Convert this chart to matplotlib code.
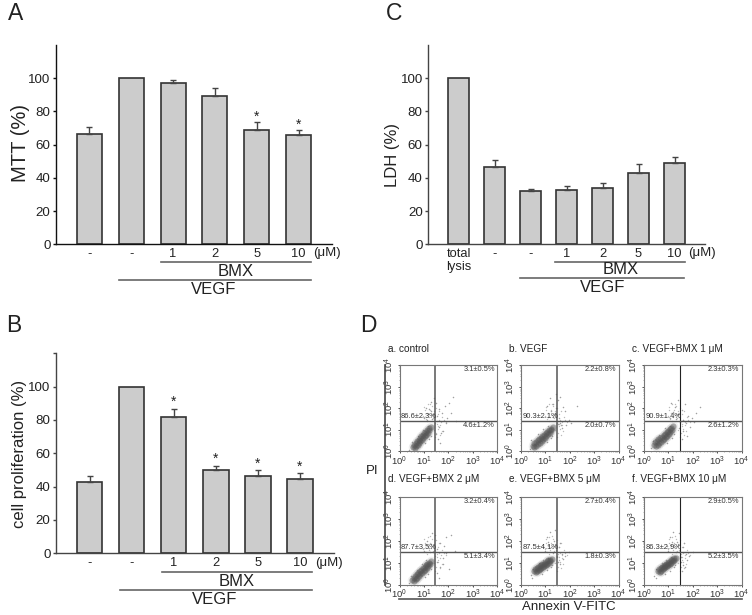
import numpy as np
import matplotlib
matplotlib.use("Agg")
import matplotlib.pyplot as plt
from matplotlib.lines import Line2D

plt.rcParams["font.family"] = ["Liberation Sans", "DejaVu Sans"]
plt.rcParams["mathtext.fontset"] = "custom"
plt.rcParams["mathtext.rm"] = "Liberation Sans"
plt.rcParams["mathtext.default"] = "rm"

W, H = 752, 615

# bar panels
mtt_labels = ["-", "-", "1", "2", "5", "10"]
mtt_vals = [66.7, 100, 97.3, 89.3, 68.8, 65.8]
mtt_errs = [3.8, 0, 1.5, 5.1, 4.7, 2.9]
mtt_stars = [4, 5]

prolif_labels = ["-", "-", "1", "2", "5", "10"]
prolif_vals = [42.9, 100, 81.7, 49.7, 46.3, 44.5]
prolif_errs = [3.2, 0, 5.1, 2.8, 3.4, 3.6]
prolif_stars = [2, 3, 4, 5]

ldh_labels = ["total\nlysis", "-", "-", "1", "2", "5", "10"]
ldh_vals = [100, 46.4, 32.2, 32.4, 33.6, 43.2, 49.2]
ldh_errs = [0, 4.2, 1.3, 2.9, 3.4, 5.0, 3.2]

yticks = [0, 20, 40, 60, 80, 100]

# flow cytometry panels
flow_titles = ["a. control", "b. VEGF", "c. VEGF+BMX 1 μM",
               "d. VEGF+BMX 2 μM", "e. VEGF+BMX 5 μM", "f. VEGF+BMX 10 μM"]
flow_ur = ["3.1±0.5%", "2.2±0.8%", "2.3±0.3%", "3.2±0.4%", "2.7±0.4%", "2.9±0.5%"]
flow_ul = ["86.6±2.3%", "90.3±2.1%", "90.9±1.4%", "87.7±3.5%", "87.5±4.1%", "86.3±2.9%"]
flow_lr = ["4.6±1.2%", "2.0±0.7%", "2.6±1.2%", "5.1±3.4%", "1.8±0.3%", "5.2±3.5%"]

# log10 positions of the dense cell population
core_a_x = [.55, .62, .60, .68, .66, .74, .72, .80, .78, .86, .84, .92, .90, .98, .96, 1.04, 1.02, 1.10, 1.08, 1.16, 1.14, 1.22, 1.20, 1.30]
core_a_y = [.20, .15, .30, .25, .38, .30, .45, .38, .52, .45, .60, .52, .68, .60, .75, .68, .82, .75, .90, .85, .98, .98, 1.08, 1.12]
core_b_x = [.48, .55, .52, .62, .60, .70, .68, .78, .74, .85, .82, .92, .88, .98, .95, 1.04, 1.02, 1.12, 1.08, 1.18, 1.15, 1.24, 1.22, 1.30]
core_b_y = [.25, .18, .35, .25, .42, .32, .50, .38, .56, .46, .62, .55, .70, .62, .76, .70, .84, .78, .90, .86, .98, .96, 1.04, 1.10]
core_c_x = [.42, .50, .46, .56, .54, .62, .58, .70, .66, .76, .74, .84, .80, .90, .88, .96, .94, 1.02, 1.00, 1.08, 1.06, 1.14, 1.12, 1.20]
core_c_y = [.30, .22, .40, .28, .46, .36, .54, .42, .60, .50, .66, .58, .74, .66, .80, .72, .88, .80, .94, .90, 1.02, .98, 1.08, 1.14]
core_d_x = [.52, .60, .58, .66, .64, .72, .70, .80, .76, .86, .84, .92, .90, 1.00, .96, 1.06, 1.04, 1.12, 1.08, 1.18, 1.14, 1.24, 1.22, 1.30]
core_d_y = [.22, .16, .32, .26, .38, .32, .46, .38, .52, .46, .60, .54, .66, .60, .74, .68, .80, .76, .88, .84, .94, .94, 1.00, 1.08]
core_e_x = [.52, .60, .56, .66, .64, .72, .70, .78, .76, .84, .82, .90, .88, .96, .94, 1.02, 1.00, 1.08, 1.06, 1.14, 1.12, 1.20, 1.18, 1.28]
core_e_y = [.62, .55, .70, .60, .74, .66, .80, .70, .84, .76, .88, .80, .92, .86, .96, .90, 1.00, .96, 1.06, 1.00, 1.10, 1.06, 1.14, 1.18]
core_f_x = [.58, .66, .62, .70, .68, .76, .74, .82, .80, .88, .86, .94, .92, 1.00, .98, 1.06, 1.04, 1.12, 1.10, 1.18, 1.16, 1.24, 1.22, 1.30]
core_f_y = [.64, .58, .72, .64, .76, .70, .82, .74, .86, .80, .90, .84, .96, .90, 1.00, .94, 1.04, 1.00, 1.10, 1.06, 1.14, 1.12, 1.20, 1.22]

# log10 positions of the scattered cells
sparse_a_x = [.40, .50, .75, .95, 1.15, 1.30, 1.05, 1.20, 1.00, 1.18, 1.10, 1.28, 1.35, 1.55, 1.62, 1.75, 1.85, 2.05, 2.20, 2.30, 1.60, 1.72, 1.58, 1.80, 1.66, 1.95, 2.10, 1.50, 1.42, 1.90, 1.30, 1.12, 1.22, 1.48]
sparse_a_y = [.05, .42, .72, .98, 1.18, .72, .38, .55, 1.55, 1.70, 2.00, 1.85, 1.50, 1.62, 1.95, 1.75, 2.10, 2.25, 2.50, 1.40, 1.10, .85, .55, .95, .35, 1.52, 1.78, 2.25, 2.45, 1.28, 2.30, 1.45, 1.95, .80]
sparse_b_x = [.35, .42, .70, .90, 1.10, 1.28, 1.05, 1.22, 1.10, 1.22, 1.05, 1.30, 1.38, 1.50, 1.60, 1.72, 1.55, 1.80, 1.95, 2.05, 1.50, 1.62, 1.70, 1.85, 2.30, 1.45, 1.20, 1.32, 1.42, 1.65]
sparse_b_y = [.10, .50, .78, 1.02, 1.15, .70, .42, .60, 1.60, 1.85, 2.10, 2.20, 1.75, 2.35, 2.50, 2.05, 1.55, 1.85, 1.45, 1.30, 1.25, 1.30, 1.08, 1.22, 2.10, 2.65, 2.45, 1.60, 2.00, 1.20]
sparse_c_x = [.30, .38, .62, .85, 1.05, 1.25, .95, 1.15, 1.05, 1.20, 1.10, 1.28, 1.40, 1.55, 1.68, 1.82, 1.48, 1.72, 1.95, 2.15, 2.30, 1.45, 1.60, 1.75, 1.55, 1.88, 1.32, 1.40, 1.60, 2.05]
sparse_c_y = [.12, .48, .75, 1.05, 1.18, .80, .35, .60, 1.55, 1.80, 2.25, 2.05, 1.70, 1.90, 2.20, 1.65, 1.35, 1.30, 1.55, 1.75, 2.05, 1.08, .95, .70, .55, 1.12, 1.48, 2.35, 1.45, 1.35]
sparse_d_x = [.40, .48, .72, .92, 1.10, 1.30, 1.05, 1.18, 1.02, 1.20, 1.12, 1.28, 1.38, 1.55, 1.68, 1.82, 1.92, 2.10, 2.28, 1.55, 1.68, 1.52, 1.78, 1.62, 1.90, 2.02, 1.45, 1.35, 1.78, 1.25]
sparse_d_y = [.08, .40, .68, .95, 1.12, .70, .36, .50, 1.55, 1.68, 2.00, 1.85, 1.48, 1.62, 1.90, 1.75, 2.15, 2.25, 1.55, 1.05, .82, .52, .92, .30, 1.42, .70, 2.25, 2.35, 1.22, 1.50]
sparse_e_x = [.42, .50, .45, .72, .92, 1.10, 1.28, .85, 1.05, 1.22, .98, 1.10, 1.25, 1.35, 1.05, 1.20, 1.42, 1.48, 1.55, 1.68, 1.80, 1.95, 1.50, 1.62, 1.72, 1.40, 1.12, 1.30, .90, 1.60]
sparse_e_y = [.45, .70, .30, .98, 1.10, 1.22, .90, .50, .66, .80, 1.55, 1.80, 1.70, 2.00, 2.15, 2.40, 1.50, 1.25, 1.72, 1.40, 1.30, 1.50, 1.05, .95, 1.15, 2.50, 1.95, 1.45, 1.72, 1.90]
sparse_f_x = [.40, .50, .48, .72, .90, 1.10, 1.28, .88, 1.05, 1.22, .98, 1.10, 1.25, 1.35, 1.05, 1.20, 1.45, 1.50, 1.60, 1.72, 1.85, 2.00, 1.50, 1.62, 1.75, 1.42, 1.15, 1.32, .95, 1.65, 1.55, 1.70]
sparse_f_y = [.40, .72, .30, .98, 1.12, 1.25, .88, .50, .64, .80, 1.55, 1.80, 1.70, 1.95, 2.15, 2.40, 1.50, 1.25, 1.70, 1.40, 1.30, 1.50, 1.02, .90, 1.10, 2.35, 1.95, 1.50, 1.75, 1.90, .62, .80]

# faint cells above and right of the population, much the same in every panel
faint_x = [.98, 1.04, 1.08, 1.12, 1.16, 1.20, 1.24, 1.28, 1.32, 1.36, 1.40, 1.44, 1.48, 1.52, 1.56, 1.60, 1.64, 1.70, 1.76, 1.82, 1.90, 1.02, 1.14, 1.26, 1.34, 1.46, 1.54, 1.68, 1.40, 1.50, 1.58, 1.66, 1.74, 1.46, 1.56]
faint_y = [1.62, 1.90, 1.48, 1.75, 2.18, 1.58, 1.92, 1.66, 2.08, 1.52, 1.84, 1.56, 2.02, 1.40, 1.72, 1.46, 1.88, 1.34, 1.60, 1.42, 1.36, 2.06, 1.40, 2.20, 1.74, 1.30, 1.26, 1.22, .98, .82, 1.04, .74, .92, .64, 1.14]

core_xs = [core_a_x, core_b_x, core_c_x, core_d_x, core_e_x, core_f_x]
core_ys = [core_a_y, core_b_y, core_c_y, core_d_y, core_e_y, core_f_y]
sparse_xs = [sparse_a_x, sparse_b_x, sparse_c_x, sparse_d_x, sparse_e_x, sparse_f_x]
sparse_ys = [sparse_a_y, sparse_b_y, sparse_c_y, sparse_d_y, sparse_e_y, sparse_f_y]


fig = plt.figure(figsize=(W / 100, H / 100), dpi=100, facecolor="white")


def px_axes(left, top, right, bottom):
    return fig.add_axes([left / W, 1 - bottom / H, (right - left) / W, (bottom - top) / H])


def px_text(x, y, s, **kw):
    kw.setdefault("ha", "center")
    kw.setdefault("va", "center")
    kw.setdefault("color", "#222222")
    fig.text(x / W, 1 - y / H, s, **kw)


def px_line(x0, x1, y0, y1, color="#666666", lw=1.2):
    fig.add_artist(Line2D([x0 / W, x1 / W], [1 - y0 / H, 1 - y1 / H], color=color, lw=lw))


def bar_panel(box, first_center, step, width, labels, vals, errs, spine):
    left, top, right, bottom = box
    ax = px_axes(*box)
    xpos = np.arange(len(vals))
    ax.bar(xpos, vals, width=width / step, color="#cccccc", edgecolor="#333333", linewidth=1.2)
    keep = [i for i in xpos if errs[i] > 0]
    ax.errorbar(keep, [vals[i] for i in keep],
                yerr=[[0] * len(keep), [errs[i] for i in keep]],
                fmt="none", ecolor="#444444", elinewidth=1, capsize=2.3, capthick=1)
    ax.set_xlim((left - first_center) / step, (right - first_center) / step)
    ax.set_ylim(0, 120)
    ax.set_yticks(yticks)
    ax.set_xticks(xpos)
    ax.set_xticklabels(labels, linespacing=1.1)
    ax.tick_params(axis="x", length=0, pad=3, labelsize=9.3, colors="#222222")
    ax.tick_params(axis="y", which="both", length=2.5, width=1, pad=1.5, labelsize=9.6, color=spine, labelcolor="#222222")
    for side in ["top", "right"]:
        ax.spines[side].set_visible(False)
    for side in ["left", "bottom"]:
        ax.spines[side].set_color(spine)
        ax.spines[side].set_linewidth(1)
    return ax


def star(ax, i, value):
    ax.text(i, value, "*", ha="center", va="center", fontsize=10, color="#222222")


# panel A
ax_a = bar_panel((56, 45, 332, 244.3), 89.2, 41.9, 25, mtt_labels, mtt_vals, mtt_errs, "#111111")
for i in mtt_stars:
    star(ax_a, i, mtt_vals[i] + mtt_errs[i] + 3.5)
px_text(21, 143, "MTT (%)", rotation=90, fontsize=14.5)
px_text(327, 253.5, "(μM)", fontsize=9.5)
px_line(161, 311, 262, 262)
px_line(119, 311, 280, 280)
px_text(236, 272, "BMX", fontsize=12)
px_text(214, 290, "VEGF", fontsize=12)
px_text(16, 14, "A", fontsize=16.5)

# panel B
ax_b = bar_panel((56, 353.3, 334, 553.3), 89.5, 42.1, 25.5, prolif_labels, prolif_vals, prolif_errs, "#444444")
ax_b.set_yticks([120], minor=True)
for i in prolif_stars:
    star(ax_b, i, prolif_vals[i] + prolif_errs[i] + 4)
px_text(20, 454, "cell proliferation (%)", rotation=90, fontsize=12)
px_text(329, 563, "(μM)", fontsize=9.5)
px_line(162, 312, 572, 572)
px_line(120, 312, 590, 590)
px_text(237, 582, "BMX", fontsize=12)
px_text(215, 600, "VEGF", fontsize=12)
px_text(14, 326, "B", fontsize=16.5)

# panel C
ax_c = bar_panel((428.3, 45, 705, 244.3), 458.5, 36, 21.7, ldh_labels, ldh_vals, ldh_errs, "#444444")
px_text(393, 155, "LDH (%)", rotation=90, fontsize=12)
px_text(702, 253, "(μM)", fontsize=9.5)
px_line(555, 685, 262, 262)
px_line(520, 684, 278, 278)
px_text(621, 270, "BMX", fontsize=12)
px_text(603, 288, "VEGF", fontsize=12)
px_text(394, 14, "C", fontsize=16.5)

# panel D
px_text(368, 326, "D", fontsize=16.5)
flow_lefts = [399.5, 521, 644]
flow_rows = [(365, 451, 420.7, 16), (497, 584.5, 551.7, 18)]
decades = [0, 1, 2, 3, 4]
dec_labels = ["$10^{%d}$" % d for d in decades]
minor = np.log10(np.arange(2, 10))

for k in range(6):
    left = flow_lefts[k % 3]
    top, bottom, hline_y, title_gap = flow_rows[k // 3]
    ax = px_axes(left, top, left + 97.5, bottom)
    ax.scatter(faint_x, faint_y, s=1.0, color="#bbbbbb", linewidths=0)
    ax.scatter(sparse_xs[k], sparse_ys[k], s=1.2, color="#a0a0a0", linewidths=0)
    ax.scatter(core_xs[k], core_ys[k], s=48, color="#777777", alpha=0.10, linewidths=0)
    ax.scatter(core_xs[k], core_ys[k], s=20, color="#555555", alpha=0.45, linewidths=0)
    ax.set_xlim(0, 4)
    ax.set_ylim(0, 4)
    ax.set_xticks(decades)
    ax.set_yticks(decades)
    ax.set_xticklabels(dec_labels)
    ax.set_yticklabels(dec_labels, rotation=90, va="center")
    ax.set_xticks([d + m for d in decades[:-1] for m in minor], minor=True)
    ax.set_yticks([d + m for d in decades[:-1] for m in minor], minor=True)
    ax.tick_params(which="major", length=1.6, width=0.6, labelsize=6.8, pad=1, colors="#333333")
    ax.tick_params(which="minor", length=0.8, width=0.4, color="#777777")
    for s in ax.spines.values():
        s.set_color("#777777")
        s.set_linewidth(0.8)
    dark = k in (2, 5)
    col = "#222222" if dark else "#555555"
    lw = 0.8 if dark else 1.1
    ax.axvline(1.47, color=col, lw=lw)
    ax.axhline((bottom - hline_y) / (bottom - top) * 4, color="#555555", lw=1.0)
    px_text(left + 95.5, top + 4.5, flow_ur[k], ha="right", fontsize=5.4, color="#333333")
    px_text(left + 1.5, hline_y - 4.5, flow_ul[k], ha="left", fontsize=5.4, color="#333333")
    px_text(left + 95.5, hline_y + 4.5, flow_lr[k], ha="right", fontsize=5.4, color="#333333")
    px_text(left - 12, top - title_gap, flow_titles[k], ha="left", fontsize=7.2)

px_line(385, 385, 365, 585, color="#444444", lw=1.2)
px_line(399, 742, 599, 599, color="#555555", lw=1.2)
px_text(372, 471, "PI", fontsize=9.5)
px_text(569, 607, "Annexin V-FITC", fontsize=9.5)

fig.savefig("out.png", dpi=100)
